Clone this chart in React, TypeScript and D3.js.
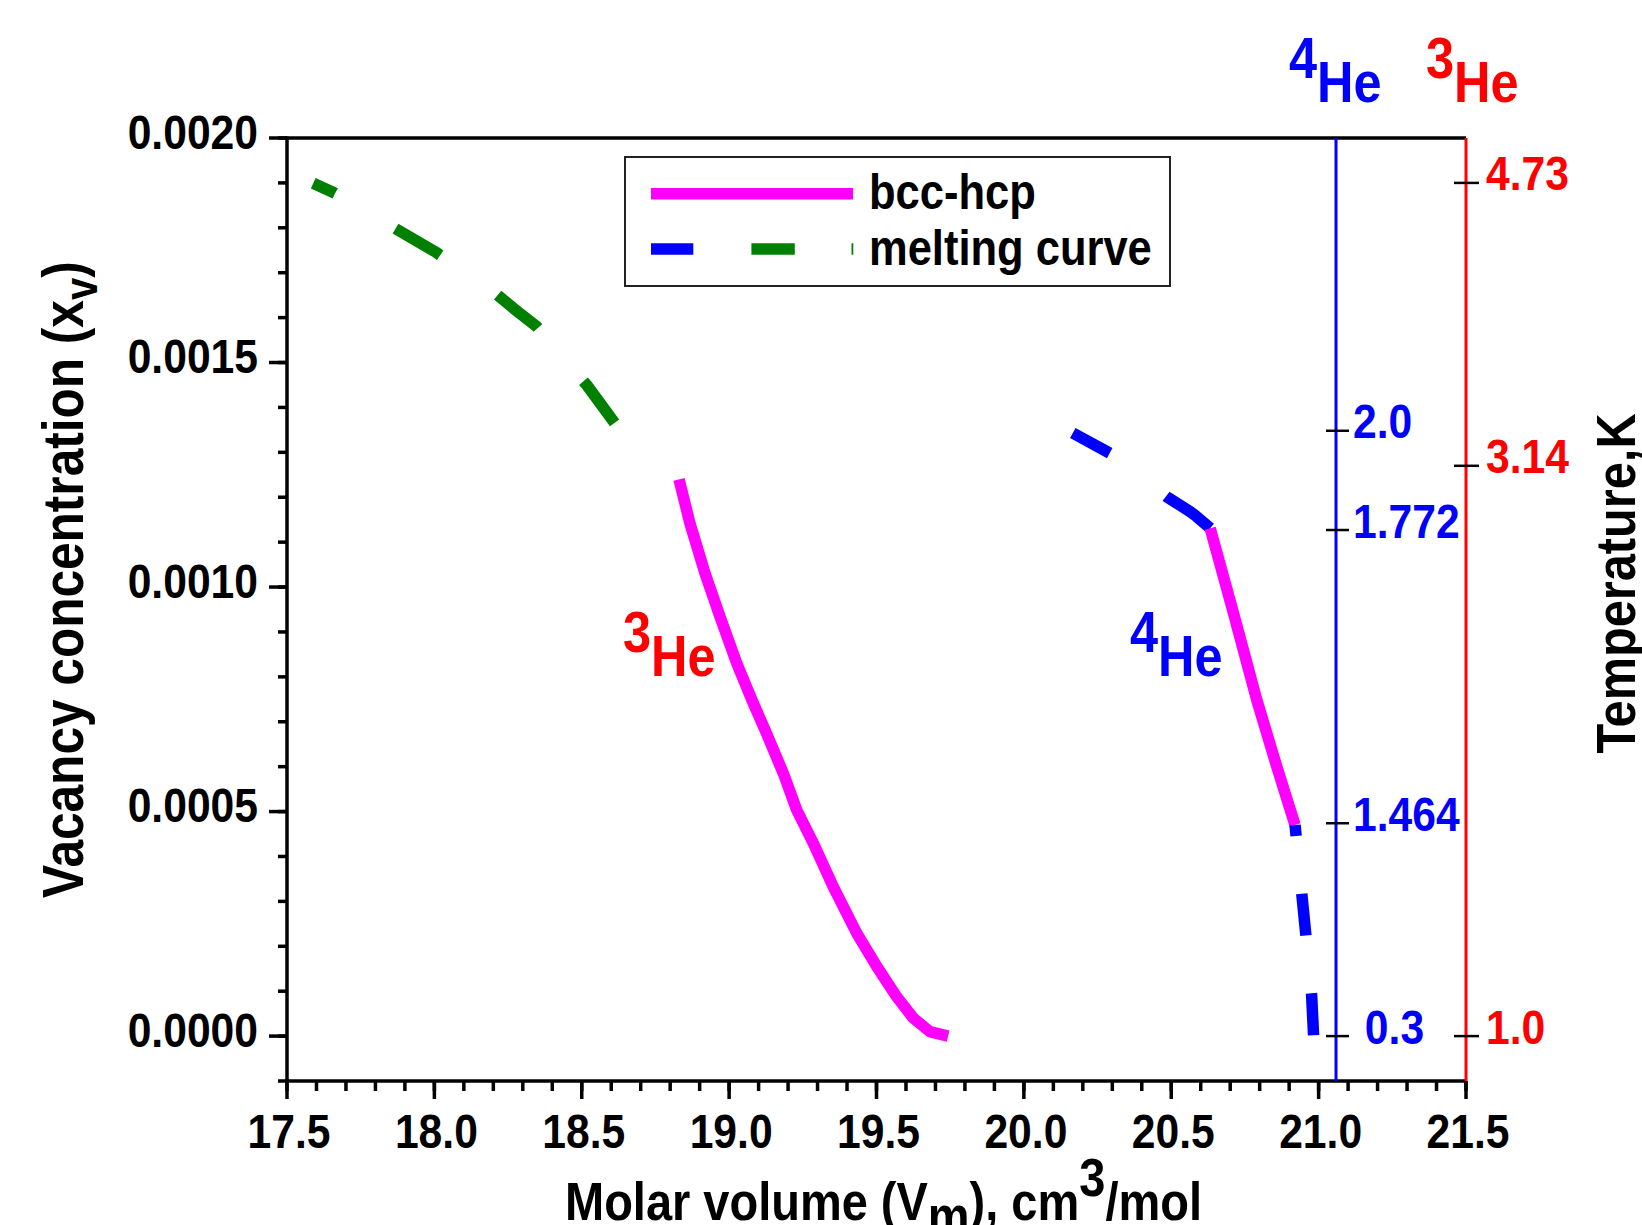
import React from "react";
import * as d3 from "d3";

// molar volume (cm3/mol) and vacancy concentration
const bcc3HeVm = [18.830, 18.867, 18.918, 18.969, 19.026, 19.077, 19.127, 19.184, 19.229, 19.286, 19.353, 19.433, 19.501, 19.568, 19.625, 19.681, 19.743];
const bcc3HeXv = [0.001240, 0.001142, 0.001031, 0.000934, 0.000830, 0.000749, 0.000674, 0.000585, 0.000504, 0.000429, 0.000333, 0.000229, 0.000155, 0.000088, 0.000040, 0.000010, 0.0];

const melt3HeVm = [17.589, 17.663, 17.861, 18.002, 18.200, 18.268, 18.347, 18.517, 18.619];
const melt3HeXv = [0.001899, 0.001877, 0.001801, 0.001747, 0.001658, 0.001621, 0.001580, 0.001450, 0.001359];

const melt4HeHiVm = [20.166, 20.292, 20.485, 20.564, 20.586, 20.632];
const melt4HeHiXv = [0.001343, 0.001298, 0.001201, 0.001168, 0.001157, 0.001131];

const bcc4HeVm = [20.632, 20.711, 20.790, 20.858, 20.920];
const bcc4HeXv = [0.001131, 0.000942, 0.000749, 0.000600, 0.000470];

const melt4HeLoVm = [20.920, 20.943, 20.957, 20.976, 20.983];
const melt4HeLoXv = [0.000470, 0.000316, 0.000223, 0.000094, 0.0];

// temperature axes: label and the vacancy concentration it sits at
const temp4HeLabels = ["2.0", "1.772", "1.464", " 0.3"];
const temp4HeAt = [0.001348, 0.001127, 0.000474, 0.0];
const temp3HeLabels = ["4.73", "3.14", "1.0"];
const temp3HeAt = [0.0019, 0.00127, 0.0];

const xMajor = d3.range(0, 9).map(i => 17.5 + i * 0.5);
const xMinor = d3.range(0, 41).map(i => 17.5 + i * 0.1);
const yMajor = d3.range(0, 5).map(i => i * 0.0005);
const yMinor = d3.range(-1, 21).map(i => i * 0.0001);

const FONT = "'Liberation Sans', Arial, Helvetica, sans-serif";
const PINK = "#ff00ff";
const BLUE = "#0000ff";
const GREEN = "#008000";
const RED = "#ff0000";

function Label({ x, y, size, fill = "#000", anchor = "start", rotate = 0, sx = 0.87, children }: any) {
  return (
    <text
      transform={`translate(${x},${y}) rotate(${rotate}) scale(${sx},1)`}
      fontFamily={FONT}
      fontWeight="bold"
      fontSize={size}
      fill={fill}
      textAnchor={anchor}
      style={{ whiteSpace: "pre" }}
    >
      {children}
    </text>
  );
}

function HeLabel({ x, y, iso, fill }: any) {
  return (
    <Label x={x} y={y} size={58} fill={fill}>
      <tspan dy={-24}>{iso}</tspan>
      <tspan dy={24}>He</tspan>
    </Label>
  );
}

export default function App() {
  const W = 1642, H = 1225;
  const left = 287, right = 1466, top = 138, bottom = 1081;

  const x = d3.scaleLinear().domain([17.5, 21.5]).range([left, right]);
  const y = d3.scaleLinear().domain([-0.0001, 0.002]).range([bottom, top]);

  const line = d3.line<[number, number]>().x(d => x(d[0])).y(d => y(d[1]));
  const path = (vm: number[], xv: number[]) => line(d3.zip(vm, xv) as [number, number][]) || "";

  const axis4He = x(21.059);
  const axis3He = right;
  const sw = 11.5;

  return (
    <svg width={W} height={H} style={{ position: "absolute", left: 0, top: 0, display: "block", background: "#fff" }}>
      <rect width={W} height={H} fill="#fff" />

      {/* curves */}
      <g fill="none" strokeWidth={sw} strokeLinejoin="round">
        <path d={path(melt3HeVm, melt3HeXv)} stroke={GREEN} strokeDasharray="52 70" strokeDashoffset={28} />
        <path d={path(bcc3HeVm, bcc3HeXv)} stroke={PINK} />
        <path d={path(melt4HeHiVm, melt4HeHiXv)} stroke={BLUE} strokeDasharray="42 71 60 40" />
        <path d={path(bcc4HeVm, bcc4HeXv)} stroke={PINK} />
        <path d={path(melt4HeLoVm, melt4HeLoXv)} stroke={BLUE} strokeDasharray="42 58" strokeDashoffset={31} />
      </g>

      {/* frame */}
      <line x1={left} x2={right} y1={top} y2={top} stroke="#000" strokeWidth={3.5} />
      <line x1={left} x2={left} y1={top - 1.5} y2={bottom} stroke="#000" strokeWidth={3.5} />
      <line x1={left} x2={right} y1={bottom} y2={bottom} stroke="#000" strokeWidth={3.5} />
      <line x1={axis4He} x2={axis4He} y1={top} y2={bottom} stroke={BLUE} strokeWidth={3} />
      <line x1={axis3He} x2={axis3He} y1={top} y2={bottom} stroke={RED} strokeWidth={3} />

      {/* y ticks */}
      {yMinor.map(v => (
        <line key={"ym" + v} x1={left - 9} x2={left} y1={y(v)} y2={y(v)} stroke="#000" strokeWidth={3.5} />
      ))}
      {yMajor.map(v => (
        <g key={"yM" + v}>
          <line x1={left - 18} x2={left} y1={y(v)} y2={y(v)} stroke="#000" strokeWidth={3.5} />
          <Label x={258} y={y(v) + 10.5} size={49} anchor="end">{d3.format(".4f")(v)}</Label>
        </g>
      ))}

      {/* x ticks */}
      {xMinor.map(v => (
        <line key={"xm" + v} x1={x(v)} x2={x(v)} y1={bottom} y2={bottom + 10} stroke="#000" strokeWidth={3.5} />
      ))}
      {xMajor.map(v => (
        <g key={"xM" + v}>
          <line x1={x(v)} x2={x(v)} y1={bottom} y2={bottom + 18} stroke="#000" strokeWidth={3.5} />
          <Label x={x(v) + 2} y={1148} size={49} anchor="middle">{d3.format(".1f")(v)}</Label>
        </g>
      ))}

      {/* temperature axes */}
      {temp4HeAt.map((v, i) => (
        <g key={"t4" + i}>
          <line x1={axis4He - 10} x2={axis4He + 13} y1={y(v)} y2={y(v)} stroke="#000" strokeWidth={2.5} />
          <Label x={axis4He + 17} y={y(v) + 7.5} size={49} fill={BLUE}>{temp4HeLabels[i]}</Label>
        </g>
      ))}
      {temp3HeAt.map((v, i) => (
        <g key={"t3" + i}>
          <line x1={axis3He - 12} x2={axis3He + 13} y1={y(v)} y2={y(v)} stroke="#000" strokeWidth={2.5} />
          <Label x={axis3He + 20} y={y(v) + 7.5} size={49} fill={RED}>{temp3HeLabels[i]}</Label>
        </g>
      ))}

      {/* legend */}
      <rect x={625} y={157} width={545} height={129} fill="#fff" stroke="#222" strokeWidth={2} />
      <line x1={651} x2={853} y1={193.7} y2={193.7} stroke={PINK} strokeWidth={sw} />
      <line x1={651} x2={693.3} y1={249} y2={249} stroke={BLUE} strokeWidth={sw} />
      <line x1={751.4} x2={794.8} y1={249} y2={249} stroke={GREEN} strokeWidth={sw} />
      <line x1={851.5} x2={853.3} y1={249} y2={249} stroke={GREEN} strokeWidth={sw} />
      <Label x={869} y={209.3} size={50}>bcc-hcp</Label>
      <Label x={869} y={265} size={50}>melting curve</Label>

      {/* isotope labels */}
      <HeLabel x={x(18.64)} y={y(0.000802)} iso="3" fill={RED} />
      <HeLabel x={x(20.36)} y={y(0.000802)} iso="4" fill={BLUE} />
      <HeLabel x={axis4He - 47} y={101.6} iso="4" fill={BLUE} />
      <HeLabel x={axis3He - 40} y={101.6} iso="3" fill={RED} />

      {/* axis titles */}
      <Label x={83} y={579.6} rotate={-90} size={57} anchor="middle">
        Vacancy concentration (x<tspan fontSize={46} dy={14}>v</tspan><tspan dy={-14}>)</tspan>
      </Label>
      <Label x={883.5} y={1220} size={54} anchor="middle">
        Molar volume (V<tspan dy={14}>m</tspan><tspan dy={-14}>), cm</tspan><tspan dy={-24}>3</tspan><tspan dy={24}>/mol</tspan>
      </Label>
      <Label x={1635} y={583.5} rotate={-90} size={56} anchor="middle">Temperature,K</Label>
    </svg>
  );
}
